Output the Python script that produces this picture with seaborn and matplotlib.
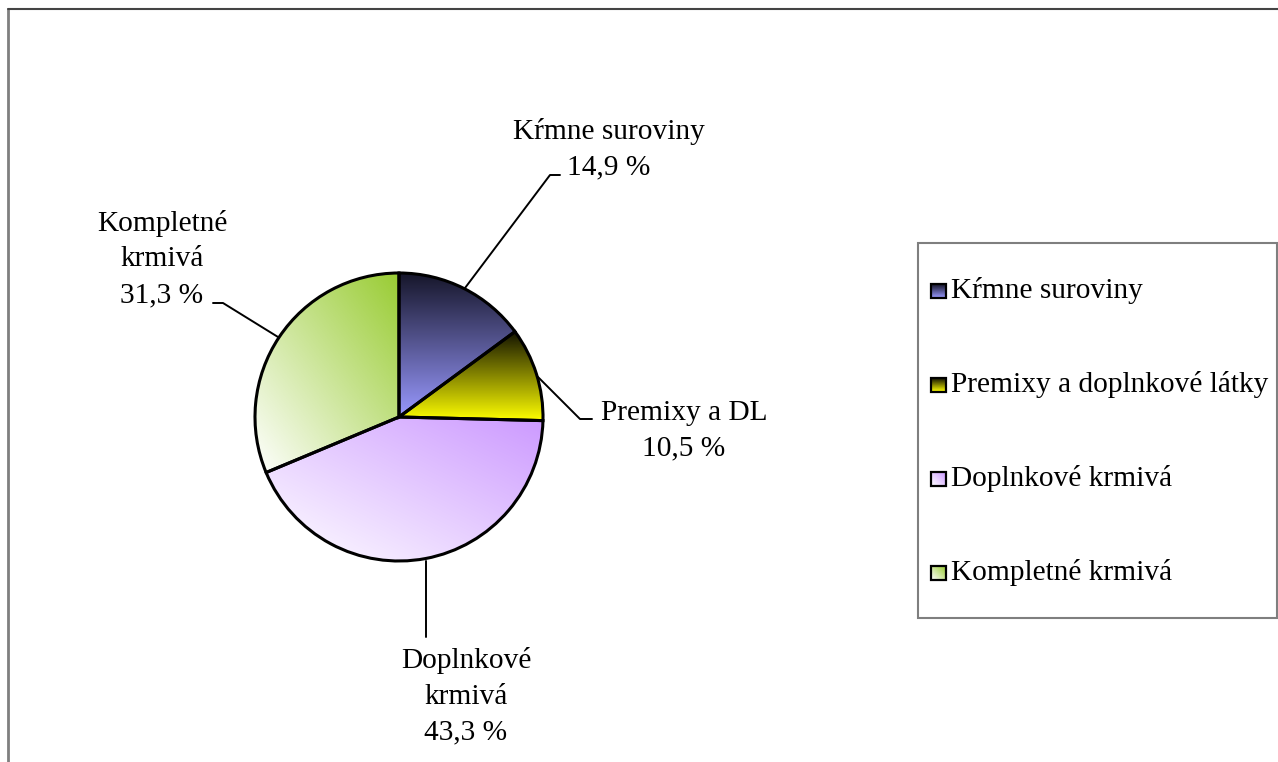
import numpy as np
import matplotlib
matplotlib.use("Agg")
import matplotlib.pyplot as plt
import seaborn as sns
from matplotlib.patches import Rectangle
from matplotlib.lines import Line2D
from matplotlib.colors import to_rgb

# data
categories = ["Kŕmne suroviny", "Premixy a doplnkové látky", "Doplnkové krmivá", "Kompletné krmivá"]
slice_labels = ["Kŕmne suroviny", "Premixy a DL", "Doplnkové\nkrmivá", "Kompletné\nkrmivá"]
shares = [14.9, 10.5, 43.3, 31.3]

# gradient per slice: (kind, first colour, second colour)
grads = [
    ("vertical", "#16162a", "#9999ff"),
    ("vertical", "#141400", "#ffff00"),
    ("diagonal", "#ffffff", "#cc99ff"),
    ("diagonal", "#ffffff", "#99cc33"),
]

sns.set_theme(style="white")
plt.rcParams["font.family"] = ["Liberation Serif", "DejaVu Serif"]
plt.rcParams["text.color"] = "black"
FS = 21.2

W, H = 1278, 762
fig = plt.figure(figsize=(W / 100, H / 100), dpi=100)
ax = fig.add_axes([0, 0, 1, 1])

cx, cy, R = 399, H - 417, 144
wedges, _ = ax.pie(shares, startangle=90, counterclock=False, radius=R,
                   center=(cx, cy), frame=False,
                   wedgeprops=dict(linewidth=2.2, edgecolor="black"))
ax.set_aspect("equal")
ax.axis("off")


def gradient_img(kind, c1, c2, n=200):
    a, b = np.array(to_rgb(c1)), np.array(to_rgb(c2))
    if kind == "vertical":
        t = np.linspace(0, 1, n)[:, None, None] * np.ones((1, 2, 1))
    else:
        i = np.linspace(0, 1, n)[:, None]
        j = np.linspace(0, 1, n)[None, :]
        t = ((j + (1 - i)) / 2)[:, :, None]
    return a * (1 - t) + b * t


for w, (kind, c1, c2) in zip(wedges, grads):
    th = np.radians(np.linspace(min(w.theta1, w.theta2), max(w.theta1, w.theta2), 200))
    xs = np.r_[cx, cx + R * np.cos(th)]
    ys = np.r_[cy, cy + R * np.sin(th)]
    im = ax.imshow(gradient_img(kind, c1, c2), extent=(xs.min(), xs.max(), ys.min(), ys.max()),
                   origin="upper", aspect="auto", zorder=1, interpolation="bilinear")
    im.set_clip_path(w)
    w.set_facecolor("none")
    w.set_zorder(2)

# slice labels and leader lines
label_pos = [(609, 149), (684, 431), (466, 696), (162, 259)]
leaders = [
    [(465, 288), (550, 175), (560, 175)],
    [(538, 377), (580, 419), (592, 419)],
    [(426, 561), (426, 637)],
    [(278, 337), (223, 303), (213, 303)],
]
for lab, val, (tx, ty), pts in zip(slice_labels, shares, label_pos, leaders):
    txt = f"{lab}\n{val:.1f} %".replace(".", ",")
    ax.text(tx, H - ty, txt, ha="center", va="center", fontsize=FS,
            multialignment="center", linespacing=1.47, zorder=3)
    px, py = zip(*pts)
    ax.plot(px, [H - p for p in py], color="black", lw=1.4, zorder=3)

# legend box drawn by hand, with small gradient keys
ax.add_patch(Rectangle((918, H - 618), 359, 375, facecolor="white",
                       edgecolor="#7f7f7f", lw=1.5, zorder=3))
for k, (cat, (kind, c1, c2)) in enumerate(zip(categories, grads)):
    yk = H - (292 + 94 * k)
    key = ax.imshow(gradient_img(kind, c1, c2, 20), extent=(931, 946, yk - 6, yk + 8),
                    origin="upper", aspect="auto", zorder=4)
    ax.add_patch(Rectangle((931, yk - 6), 15, 14, facecolor="none",
                           edgecolor="black", lw=1.6, zorder=5))
    ax.text(951, yk + 1, cat, ha="left", va="center", fontsize=FS, zorder=5)

ax.set_xlim(0, W)
ax.set_ylim(0, H)

# outer frame
fig.add_artist(Line2D([8 / W, 8 / W], [0, 1 - 9 / H], transform=fig.transFigure,
                      color="#7f7f7f", lw=2))
fig.add_artist(Line2D([8 / W, 1], [1 - 9 / H, 1 - 9 / H], transform=fig.transFigure,
                      color="#444444", lw=1.5))

fig.savefig("out.png", dpi=100)
